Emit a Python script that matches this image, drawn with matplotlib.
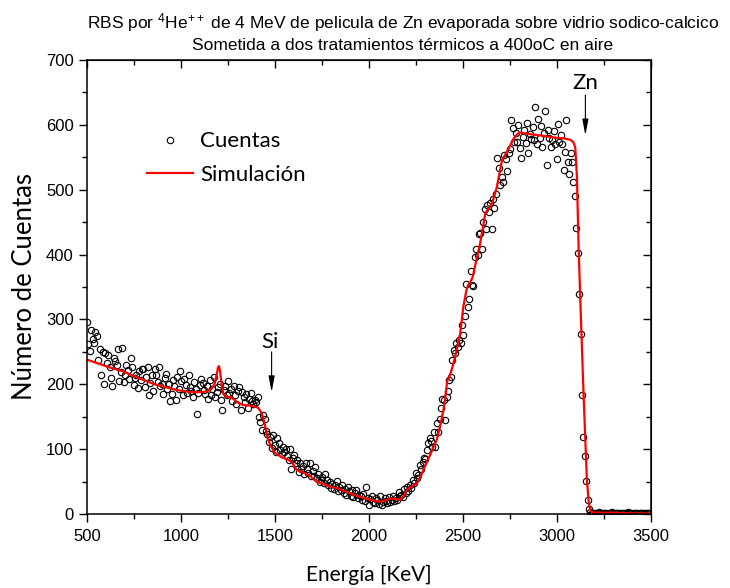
# -*- coding: utf-8 -*-
"""
Espectro RBS de pelicula de Zn: cuentas medidas y simulacion
"""
import numpy as np
import matplotlib.pyplot as plt
from matplotlib.ticker import MultipleLocator, NullFormatter

plt.rcParams['font.family'] = ['Liberation Sans', 'DejaVu Sans']
plt.rcParams['mathtext.fontset'] = 'custom'
plt.rcParams['mathtext.rm'] = 'Liberation Sans'
plt.rcParams['mathtext.it'] = 'Liberation Sans:italic'
plt.rcParams['mathtext.bf'] = 'Liberation Sans:bold'

# calibracion de energia: primer canal y paso (keV)
e_inicio = 500.0
e_paso = 7.5

# cuentas medidas por canal (20 canales por fila = 150 keV)
cuentas = [
    296, 262, 252, 284, 270, 263, 281, 274, 238, 255, 214, 250, 200, 249, 233, 245, 226, 210, 197, 241,
    236, 230, 254, 205, 219, 256, 204, 214, 229, 222, 208, 240, 226, 199, 210, 215, 195, 221, 207, 224,
    223, 196, 211, 226, 183, 202, 214, 190, 223, 214, 203, 226, 197, 201, 185, 210, 216, 192, 201, 175,
    185, 206, 198, 176, 212, 193, 221, 205, 183, 208, 199, 187, 214, 196, 190, 181, 204, 193, 154, 186,
    199, 208, 202, 191, 185, 197, 178, 206, 184, 193, 211, 180, 188, 196, 201, 176, 160, 191, 198, 183,
    205, 187, 193, 175, 198, 183, 170, 190, 196, 160, 188, 181, 172, 185, 163, 178, 186, 174, 169, 176,
    172, 181, 150, 142, 129, 153, 147, 128, 124, 111, 119, 101, 122, 106, 96, 117, 110, 98, 92, 104,
    96, 100, 89, 84, 100, 70, 86, 91, 78, 84, 65, 79, 70, 74, 62, 78, 69, 63, 78, 58,
    66, 59, 72, 55, 61, 50, 53, 57, 48, 62, 53, 44, 50, 40, 47, 38, 45, 51, 36, 42,
    37, 44, 33, 39, 30, 41, 35, 28, 37, 26, 33, 37, 24, 30, 27, 22, 31, 20, 42, 25,
    14, 23, 27, 19, 17, 25, 21, 16, 28, 14, 19, 24, 20, 17, 26, 19, 22, 28, 20, 25,
    21, 34, 27, 30, 26, 38, 33, 42, 36, 45, 40, 52, 48, 63, 56, 60, 75, 69, 80, 86,
    85, 98, 109, 117, 113, 104, 127, 104, 140, 127, 147, 163, 178, 176, 145, 181, 190, 206, 212, 237,
    253, 248, 263, 258, 268, 263, 291, 276, 305, 355, 319, 331, 374, 353, 351, 396, 409, 399, 432, 434,
    408, 450, 471, 440, 477, 466, 479, 439, 486, 472, 493, 549, 533, 507, 520, 512, 553, 547, 529, 557,
    563, 607, 595, 574, 588, 574, 600, 564, 549, 581, 592, 572, 603, 556, 586, 578, 596, 576, 627, 571,
    609, 580, 598, 566, 588, 621, 538, 592, 580, 566, 577, 590, 571, 547, 601, 574, 584, 571, 530, 558,
    607, 543, 525, 556, 543, 512, 490, 441, 403, 339, 277, 184, 118, 89, 51, 22, 8, 3, 2, 1,
    2, 0, 1, 3, 1, 0, 2, 1, 2, 0, 1, 2, 3, 1, 0, 1, 2, 1, 0, 2,
    1, 2, 0, 1, 3, 1, 2, 0, 1, 1, 2, 0, 1, 2, 1, 0, 2, 1, 1, 2,
]
energia = e_inicio + e_paso * np.arange(len(cuentas))

# curva simulada (energia keV, cuentas)
sim_e = [500, 560, 620, 690, 780, 850, 910, 980, 1050, 1120, 1160, 1178, 1190, 1197, 1202, 1208,
         1216, 1226, 1245, 1265, 1280, 1300, 1330, 1370, 1410, 1428, 1445, 1460, 1475, 1500, 1540,
         1575, 1592, 1615, 1650, 1690, 1720, 1760, 1792, 1830, 1864, 1900, 1934, 1970, 2005, 2040,
         2060, 2090, 2112, 2140, 2165, 2185, 2201, 2230, 2254, 2275, 2289, 2310, 2325, 2345, 2360,
         2378, 2396, 2408, 2416, 2425, 2433, 2445, 2458, 2485, 2502, 2518, 2529, 2540, 2552, 2570,
         2591, 2605, 2618, 2630, 2640, 2652, 2662, 2680, 2707, 2742, 2770, 2790, 2804, 2850, 2900,
         2950, 3000, 3040, 3071, 3088, 3097, 3106, 3115, 3124, 3141, 3159, 3170, 3180, 3200, 3300,
         3400, 3500]
sim_c = [238, 232, 226, 220, 209, 201, 196, 191, 188, 188, 192, 200, 215, 226, 228, 220,
         200, 185, 180, 180, 177, 172, 168, 167, 164, 156, 140, 118, 106, 94, 87,
         83, 79, 68, 64, 58, 50, 46, 42, 40, 36, 32, 28, 25, 22, 20,
         19, 21, 24, 23, 22, 28, 37, 43, 47, 58, 68, 82, 91, 105, 114,
         135, 160, 185, 205, 210, 216, 228, 242, 278, 320, 345, 354, 358, 366, 390,
         417, 440, 463, 469, 471, 478, 486, 504, 545, 563, 579, 586, 588, 586, 584,
         582, 580, 579, 577, 573, 565, 520, 410, 330, 186, 52, 15, 4, 2, 2,
         1, 1]

fig = plt.figure(figsize=(7.3, 5.88), dpi=100)
ax = fig.add_axes([87 / 730, 74 / 588, 564 / 730, 454 / 588])

ax.plot(energia, cuentas, 'o', mfc='none', mec='black', ms=4.6, mew=0.8, label='Cuentas')
ax.plot(sim_e, sim_c, color='#ff0000', lw=1.6, label='Simulación')

ax.set_xlim(500, 3500)
ax.set_ylim(0, 700)

ax.xaxis.set_major_locator(MultipleLocator(500))
ax.xaxis.set_minor_locator(MultipleLocator(250))
ax.yaxis.set_major_locator(MultipleLocator(100))
ax.yaxis.set_minor_locator(MultipleLocator(50))
ax.tick_params(which='major', direction='out', length=6, width=1, labelsize=12)
ax.tick_params(which='minor', direction='out', length=3.5, width=1)
ax.tick_params(axis='x', pad=5)
for s in ax.spines.values():
    s.set_linewidth(1.1)

# ejes superior y derecho con marcas hacia dentro
top = ax.secondary_xaxis('top')
top.xaxis.set_major_locator(MultipleLocator(500))
top.xaxis.set_minor_locator(MultipleLocator(250))
top.xaxis.set_major_formatter(NullFormatter())
top.tick_params(which='major', direction='in', length=6, width=1)
top.tick_params(which='minor', direction='in', length=3.5, width=1)
right = ax.secondary_yaxis('right')
right.yaxis.set_major_locator(MultipleLocator(100))
right.yaxis.set_minor_locator(MultipleLocator(50))
right.yaxis.set_major_formatter(NullFormatter())
right.tick_params(which='major', direction='in', length=6, width=1)
right.tick_params(which='minor', direction='in', length=3.5, width=1)

ax.set_xlabel('Energía [KeV]', family='Lato', fontsize=15)
ax.set_ylabel('Número de Cuentas', family='Lato', fontsize=18.5)
ax.xaxis.set_label_coords(0.5, -0.113)
ax.yaxis.set_label_coords(-0.089, 0.5)

ax.legend(loc='upper left', bbox_to_anchor=(0.106, 0.843), frameon=False,
          prop={'family': 'Lato', 'size': 16}, handlelength=2.1, handletextpad=0.3,
          labelspacing=0.6, borderpad=0, borderaxespad=0, numpoints=1)

# marcas de los elementos
flecha = dict(arrowstyle='-|>,head_length=0.95,head_width=0.18', color='black', lw=0.8,
              shrinkA=0, shrinkB=0)
ax.annotate('', xy=(1482, 188), xytext=(1482, 250), arrowprops=flecha)
ax.text(1475, 265, 'Si', ha='center', va='center', family='Lato', fontsize=16)
ax.annotate('', xy=(3151, 584), xytext=(3151, 646), arrowprops=flecha)
ax.text(3151, 664, 'Zn', ha='center', va='center', family='Lato', fontsize=16)

fig.text(403 / 730, 1 - 23 / 588,
         r'RBS por $^{4}$He$^{++}$ de 4 MeV de pelicula de Zn evaporada sobre vidrio sodico-calcico',
         ha='center', va='center', fontsize=12.5)
fig.text(403 / 730, 1 - 45 / 588, 'Sometida a dos tratamientos térmicos a 400oC en aire',
         ha='center', va='center', fontsize=12.5)

fig.savefig('out.png', dpi=100)
